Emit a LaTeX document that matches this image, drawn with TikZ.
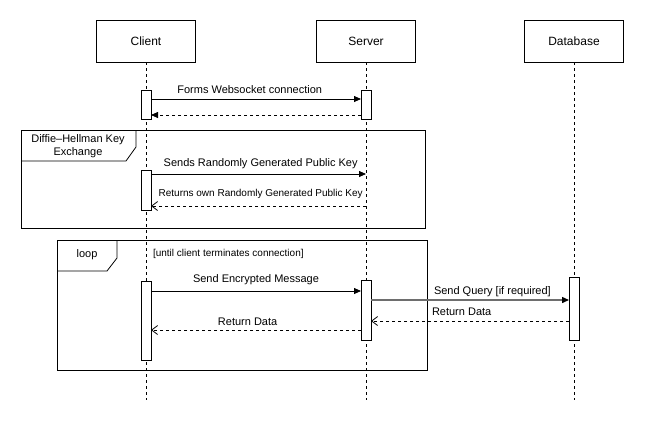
\documentclass[tikz,border=0pt]{standalone}
\usepackage{fontspec}
\setmainfont{Liberation Sans}
\usetikzlibrary{arrows.meta}
\definecolor{qgray}{RGB}{110,110,110}
\begin{document}
\begin{tikzpicture}[x=1pt,y=-1pt,
  every node/.style={inner sep=0pt,outer sep=0pt},
  actor/.style={draw,line width=0.8pt,minimum width=99pt,minimum height=42pt,font=\fontsize{12}{14}\selectfont},
  lifeline/.style={line width=0.8pt,dash pattern=on 3pt off 3pt},
  actbar/.style={draw,fill=white,line width=0.8pt},
  msg/.style={line width=0.8pt,-{Triangle[length=7pt,width=6pt]}},
  ret/.style={line width=0.8pt,dash pattern=on 3pt off 3pt,-{Straight Barb[length=6pt,width=9pt,line width=0.8pt]}},
  retfilled/.style={line width=0.8pt,dash pattern=on 3pt off 3pt,-{Triangle[length=7pt,width=6pt]}},
  lbl/.style={font=\fontsize{11}{13}\selectfont},
  smalllbl/.style={font=\fontsize{10}{12}\selectfont},
  guard/.style={font=\fontsize{10}{12}\selectfont,anchor=west},
  framebox/.style={draw,line width=0.8pt}
]
\useasboundingbox (0,0) rectangle (646,421);

% actors
\node[actor] (client) at (146,41) {Client};
\node[actor] (server) at (366,41) {Server};
\node[actor] (db) at (574,41) {Database};

% lifeline ends
\coordinate (cend) at (146,400);
\coordinate (send) at (366,400);
\coordinate (dend) at (574,400);
\draw[lifeline] (client.south) -- (cend);
\draw[lifeline] (server.south) -- (send);
\draw[lifeline] (db.south) -- (dend);

% frames
\draw[framebox] (21,130) rectangle (425,228);
\draw[line width=0.8pt] (21,161) -- (126,161) -- (136,147) -- (136,130);
\node[lbl,align=center] (dhlabel) at (78,146) {Diffie–Hellman Key\\Exchange};

\draw[framebox] (57,240) rectangle (427,370);
\draw[line width=0.8pt] (57,271) -- (107,271) -- (117,258) -- (117,240);
\node[lbl] (looplabel) at (87,255) {loop};
\node[guard] (guardlbl) at (153,254) {[until client terminates connection]};

% activation bars
\node[actbar,minimum width=10pt,minimum height=29pt,anchor=north] (ca1) at (146,90) {};
\node[actbar,minimum width=10pt,minimum height=29pt,anchor=north] (sa1) at (366,90) {};
\node[actbar,minimum width=10pt,minimum height=40pt,anchor=north] (ca2) at (146,170) {};
\node[actbar,minimum width=10pt,minimum height=79pt,anchor=north] (ca3) at (146,281) {};
\node[actbar,minimum width=10pt,minimum height=60pt,anchor=north] (sa3) at (366,280) {};
\node[actbar,minimum width=10pt,minimum height=63pt,anchor=north] (da3) at (574,277) {};

% coordinates for message ends
\coordinate (m2end) at (366,174);
\coordinate (m2start) at (366,206);

% messages
\draw[msg] (ca1.east |- 0,99) -- (sa1.west |- 0,99) node[lbl,pos=0.47,above=5pt] (t1) {Forms Websocket connection};
\draw[retfilled] (sa1.west |- 0,115) -- (ca1.east |- 0,115);

\draw[msg] (ca2.east |- 0,174) -- (m2end) node[lbl,pos=0.51,above=5pt] (t2) {Sends Randomly Generated Public Key};
\draw[ret] (m2start) -- (ca2.east |- 0,206) node[smalllbl,pos=0.49,above=7pt] (t3) {Returns own Randomly Generated Public Key};

\draw[msg] (ca3.east |- 0,291) -- (sa3.west |- 0,291) node[lbl,midway,above=6pt] (t4) {Send Encrypted Message};
\draw[draw=qgray,line width=1.4pt,-{Triangle[length=7pt,width=6pt,color=black]}] (sa3.east |- 0,300) -- (da3.west |- 0,300);
\node[lbl,anchor=base west] (t5) at (434,294) {Send Query [if required]};
\draw[ret] (da3.west |- 0,321) -- (sa3.east |- 0,321);
\node[lbl,anchor=base west] (t6) at (432,315) {Return Data};
\draw[ret] (sa3.west |- 0,330) -- (ca3.east |- 0,330) node[lbl,pos=0.54,above=4pt] (t7) {Return Data};
\end{tikzpicture}
\end{document}
